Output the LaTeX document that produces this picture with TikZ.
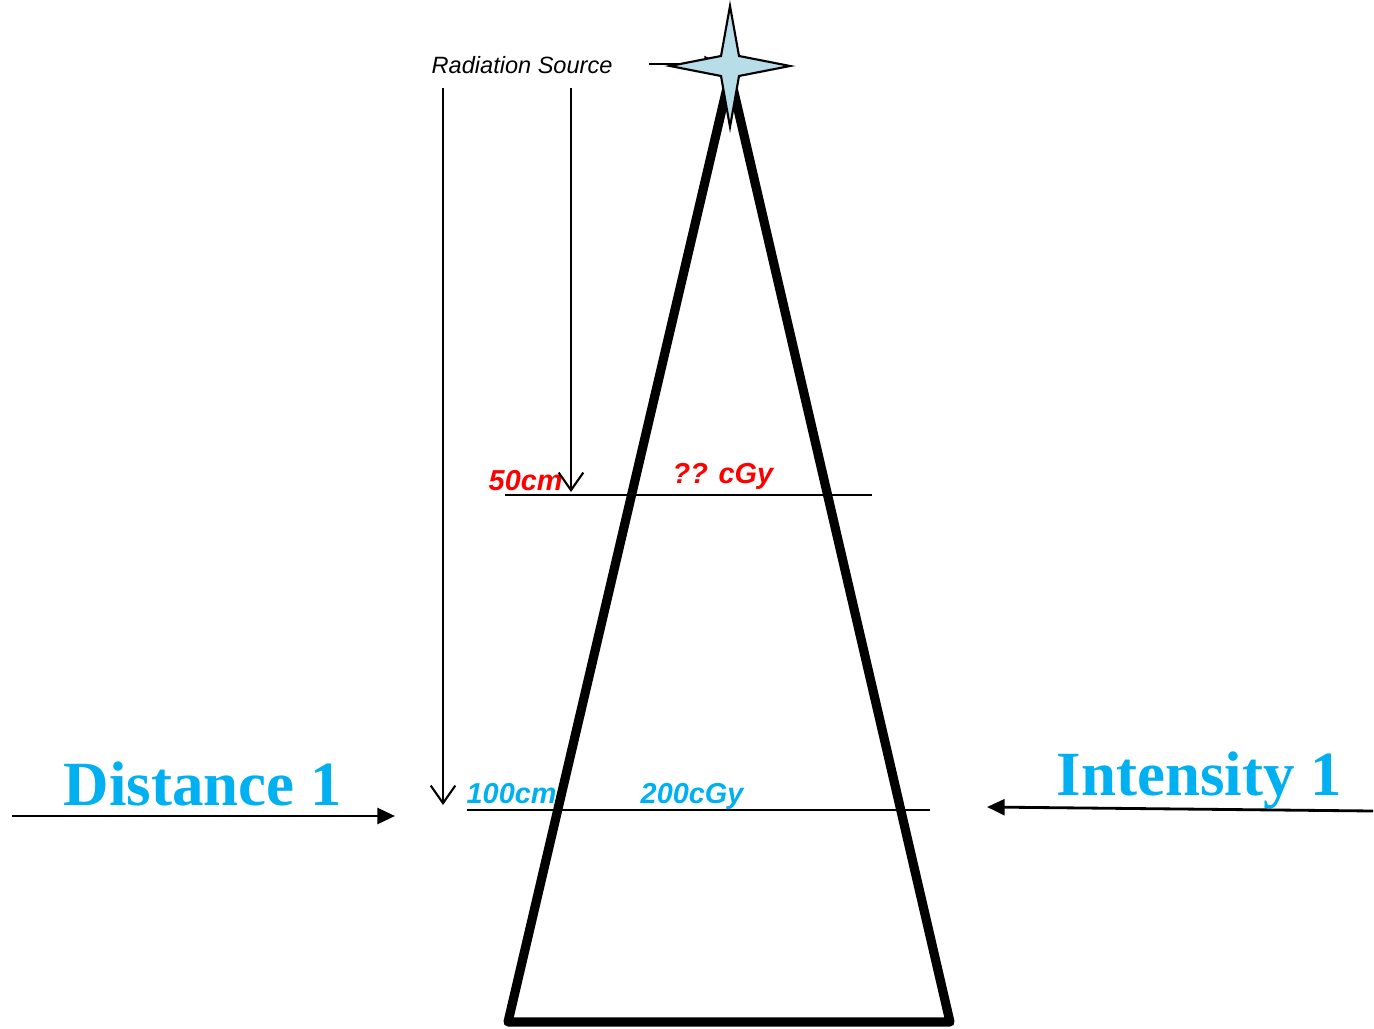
\documentclass[tikz,border=0pt]{standalone}
\usepackage{fontspec}
\setmainfont{Liberation Serif}
\newfontfamily\arialfont{Liberation Sans}
\usetikzlibrary{arrows.meta}

\definecolor{doseblue}{HTML}{00B0F0}
\definecolor{dosered}{HTML}{FF0000}
\definecolor{starblue}{HTML}{B7DEE8}

\tikzset{
  lbl/.style={anchor=base west,inner sep=0pt},
  small/.style={lbl,font=\arialfont\fontsize{8.2}{9}\selectfont\bfseries\itshape},
  big/.style={lbl,font=\fontsize{17.9}{20}\selectfont\bfseries,text=doseblue},
  thin/.style={line width=0.6pt},
  vtip/.style={-{Straight Barb[length=5pt,width=7pt]}},
  ftip/.style={-{Triangle[length=5pt,width=4.5pt]}}
}

\begin{document}
\begin{tikzpicture}[x=0.01cm,y=-0.01cm]
\useasboundingbox (0,0) rectangle (1374,1028);

% labels
\node[lbl,font=\arialfont\fontsize{6.7}{8}\selectfont\itshape] (src) at (431,74) {Radiation Source};
\node[small,text=dosered] (d50) at (488,490) {50cm};
\node[small,text=dosered] (q50) at (672,483) {?? cGy};
\node[small,text=doseblue] (d100) at (466,803) {100cm};
\node[small,text=doseblue] (q100) at (640,803) {200cGy};
\node[big] (dist) at (63,805) {Distance 1};
\node[big] (inten) at (1056,795) {Intensity 1};

% beam
\coordinate (apex) at (730,75);
\coordinate (bl) at (508,1022);
\coordinate (br) at (950,1022);
\draw[line width=2.6pt,line join=round] (apex) -- (bl) -- (br) -- cycle;

% dose planes
\coordinate (p50a) at (505,495);
\coordinate (p50b) at (872,495);
\coordinate (p100a) at (467,810);
\coordinate (p100b) at (930,810);
\draw[thin] (p50a) -- (p50b);
\draw[thin] (p100a) -- (p100b);

% distance arrows
\coordinate (a50top) at (571,88);
\coordinate (a50bot) at (571,492);
\coordinate (a100top) at (443,88);
\coordinate (a100bot) at (443,805);
\draw[thin,vtip] (a50top) -- (a50bot);
\draw[thin,vtip] (a100top) -- (a100bot);

\coordinate (srcbeg) at (649,64);
\coordinate (srcend) at (722,64);
\draw[thin,ftip] (srcbeg) -- (srcend);

\coordinate (dl) at (12,816);
\coordinate (dr) at (395,816);
\draw[line width=0.8pt,ftip] (dl) -- (dr);

\coordinate (il) at (1373,811);
\coordinate (ir) at (987,807);
\draw[line width=0.8pt,ftip] (il) -- (ir);

% source
\draw[thin,fill=starblue,line join=miter]
  (730,6) -- (739,56) -- (790,66) -- (739,76) -- (730,127)
  -- (721,76) -- (670,66) -- (721,56) -- cycle;
\end{tikzpicture}
\end{document}
